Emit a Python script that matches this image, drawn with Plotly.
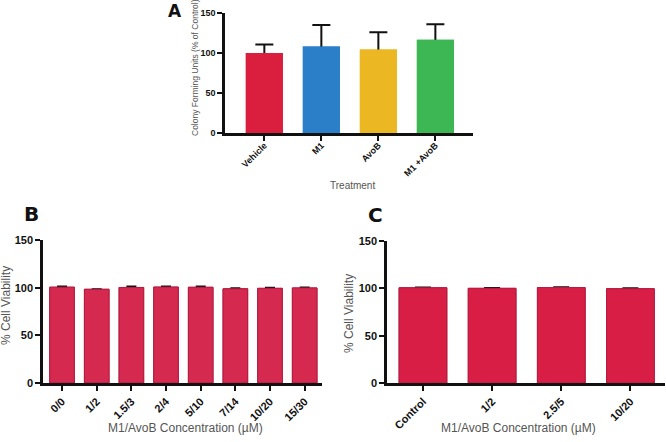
import plotly.graph_objects as go

# Panel A data
a_categories = ["Vehicle", "M1", "AvoB", "M1 +AvoB"]
a_values = [100, 108, 104.5, 116.5]
a_err = [10.5, 27, 21.5, 19.5]
a_colors = ["#DA1E3E", "#2A7FC8", "#EBB824", "#3DB654"]

# Panel B data
b_categories = ["0/0", "1/2", "1.5/3", "2/4", "5/10", "7/14", "10/20", "15/30"]
b_values = [100.5, 98.3, 100.2, 100.6, 100.4, 98.8, 99.3, 99.7]
b_err = [0.8, 0.0, 1.0, 0.7, 0.7, 0.5, 0.6, 0.6]

# Panel C data
c_categories = ["Control", "1/2", "2.5/5", "10/20"]
c_values = [100.6, 100.0, 100.8, 99.6]
c_err = [0.4, 0.4, 0.4, 0.4]

y_ticks = [0, 50, 100, 150]

W, H = 666, 442
def px_x(p):
    return p / W
def px_y(p):
    return 1 - p / H

fig = go.Figure()

def add_panel(cats, vals, errs, color, edge, width, capw, xa, ya):
    # error bars drawn behind the bars (only the upper half stays visible)
    fig.add_trace(go.Bar(
        x=cats, y=vals, marker=dict(color=color, line=dict(color=edge, width=1 if edge else 0)),
        width=width,
        error_y=dict(type="data", array=errs, color="#111", thickness=2, width=capw),
        xaxis=xa, yaxis=ya, showlegend=False, hoverinfo="skip"))
    fig.add_trace(go.Bar(
        x=cats, y=vals, marker=dict(color=color, line=dict(color=edge, width=1 if edge else 0)),
        width=width, xaxis=xa, yaxis=ya, showlegend=False))

add_panel(a_categories, a_values, a_err, a_colors, None, 0.65, 9, "x", "y")
add_panel(b_categories, b_values, b_err, "#D6294F", "#B21D42", 0.71, 5, "x2", "y2")
add_panel(c_categories, c_values, c_err, "#D81E44", "#B21D42", 0.69, 8, "x3", "y3")

tickfont = dict(family="Liberation Sans", size=11, color="#111", weight="bold")
tickfont_a = dict(family="Liberation Sans", size=9, color="#111", weight="bold")
common_x = dict(showline=True, linecolor="#111", linewidth=2.5, ticks="outside",
                ticklen=5, tickwidth=2, tickcolor="#111", tickangle=-45,
                showgrid=False, zeroline=False, automargin=False)
common_y = dict(showline=True, linecolor="#111", linewidth=2.5, ticks="outside",
                ticklen=5, tickwidth=2, tickcolor="#111", tickvals=y_ticks,
                range=[0, 150], showgrid=False, zeroline=False, automargin=False)

fig.update_layout(
    width=W, height=H, margin=dict(l=0, r=0, t=0, b=0),
    plot_bgcolor="white", paper_bgcolor="white", barmode="overlay",
    xaxis=dict(domain=[px_x(225), px_x(473)], range=[-0.69, 3.66], anchor="y",
               tickfont=tickfont_a, ticklabelstandoff=-4, **common_x),
    yaxis=dict(domain=[px_y(133), px_y(13)], anchor="x", tickfont=tickfont_a, **common_y),
    xaxis2=dict(domain=[px_x(43), px_x(322)], range=[-0.55, 7.5], anchor="y2",
                tickfont=tickfont, **common_x),
    yaxis2=dict(domain=[px_y(383), px_y(240)], anchor="x2", tickfont=tickfont, **common_y),
    xaxis3=dict(domain=[px_x(387), px_x(665)], range=[-0.52, 3.5], anchor="y3",
                tickfont=tickfont, **common_x),
    yaxis3=dict(domain=[px_y(383), px_y(241)], anchor="x3", tickfont=tickfont, **common_y),
)

# axis titles
title_font = dict(family="Liberation Sans", color="#555")
axis_titles = [
    ("Treatment", 352, 185, 0, 10),
    ("Colony Forming Units (% of Control)", 195, 68, -90, 8.5),
    ("M1/AvoB Concentration (µM)", 185, 428, 0, 12),
    ("% Cell Viability", 6, 306, -90, 12),
    ("M1/AvoB Concentration (µM)", 518, 428, 0, 12),
    ("% Cell Viability", 349, 314, -90, 12),
]
for txt, x, y, ang, sz in axis_titles:
    fig.add_annotation(text=txt, x=px_x(x), y=px_y(y), xref="paper", yref="paper",
                       showarrow=False, textangle=ang, font=dict(size=sz, **title_font),
                       xanchor="center", yanchor="middle")

label_font = dict(family="DejaVu Sans", size=18, color="#111", weight="bold")
for txt, x, y, sz in [("A", 175, 11, 17), ("B", 31, 214, 20), ("C", 375, 215, 20)]:
    fig.add_annotation(text=txt, x=px_x(x), y=px_y(y), xref="paper", yref="paper",
                       showarrow=False, font=dict(label_font, size=sz),
                       xanchor="center", yanchor="middle")

fig.write_html("out.html", config={"displayModeBar": False},
               post_script="document.body.style.margin='0';document.body.style.padding='0';")
